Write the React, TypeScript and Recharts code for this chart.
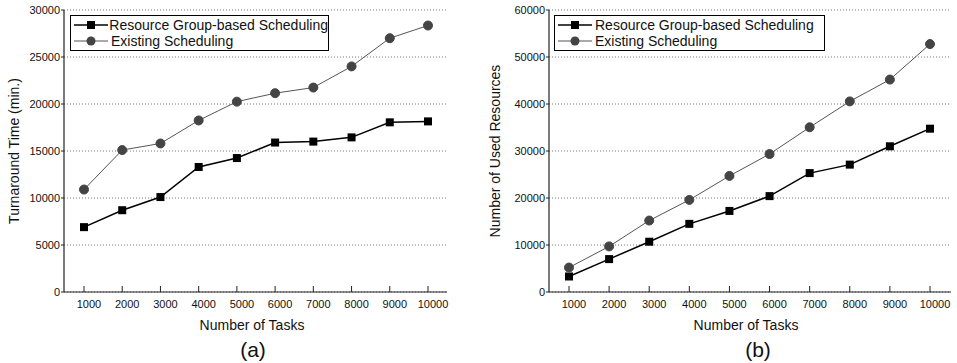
import React from 'react';
import { LineChart, Line, XAxis, YAxis, CartesianGrid, Legend, Label } from 'recharts';

const tasks = [1000, 2000, 3000, 4000, 5000, 6000, 7000, 8000, 9000, 10000];
const seriesNames = ['Resource Group-based Scheduling', 'Existing Scheduling'];
const turnaroundRG = [6900, 8700, 10100, 13300, 14250, 15900, 16000, 16450, 18050, 18150];
const turnaroundEx = [10900, 15100, 15800, 18250, 20250, 21150, 21750, 24000, 27000, 28350];
const resourcesRG = [3300, 7000, 10700, 14500, 17250, 20400, 25300, 27100, 31000, 34750];
const resourcesEx = [5200, 9700, 15200, 19600, 24700, 29350, 35050, 40550, 45200, 52750];
const turnaroundTicks = [0, 5000, 10000, 15000, 20000, 25000, 30000];
const resourceTicks = [0, 10000, 20000, 30000, 40000, 50000, 60000];

const FONT = "Arial, 'Liberation Sans', sans-serif";

const build = (a: number[], b: number[]) =>
  tasks.map((t, i) => ({ tasks: t, rg: a[i], ex: b[i] }));

const SquareDot = (props: any) => {
  const { cx, cy, index } = props;
  if (cx == null || cy == null) return <g key={`sq-${index}`} />;
  return <rect key={`sq-${index}`} x={cx - 4} y={cy - 4} width={8} height={8} fill="#000" />;
};

const LegendBox = ({ width }: { width: number }) => (
  <div
    style={{
      width,
      height: 36,
      boxSizing: 'border-box',
      border: '1px solid #000',
      background: '#fff',
      fontFamily: FONT,
      fontSize: 14,
      color: '#111',
      paddingTop: 1,
    }}
  >
    {seriesNames.map((name, i) => (
      <div key={name} style={{ display: 'flex', alignItems: 'center', height: 16 }}>
        <svg width={38} height={16} style={{ marginLeft: 1 }}>
          <line x1={2} y1={8} x2={36} y2={8} stroke={i === 0 ? '#000' : '#555'} strokeWidth={i === 0 ? 1.5 : 1} />
          {i === 0 ? (
            <rect x={15} y={4} width={8} height={8} fill="#000" />
          ) : (
            <circle cx={19} cy={8} r={4.5} fill="#444" />
          )}
        </svg>
        <span style={{ marginLeft: 1, whiteSpace: 'nowrap', lineHeight: '16px' }}>{name}</span>
      </div>
    ))}
  </div>
);

interface PanelProps {
  left: number;
  width: number;
  yAxisWidth: number;
  marginRight: number;
  rg: number[];
  ex: number[];
  yTicks: number[];
  yLabel: string;
  yLabelX: number;
  xLabelX: number;
  caption: string;
  captionX: number;
  legendLeft: number;
  legendWidth: number;
  padLeft: number;
  padRight: number;
}

const Panel = (p: PanelProps) => {
  const data = build(p.rg, p.ex);
  const yMax = p.yTicks[p.yTicks.length - 1];
  return (
    <div style={{ position: 'absolute', left: p.left, top: 0 }}>
      <LineChart width={p.width} height={363} data={data} margin={{ top: 10, right: p.marginRight, left: 0, bottom: 21 }}>
        <CartesianGrid vertical={false} stroke="#777" strokeDasharray="1 2" />
        <XAxis
          dataKey="tasks"
          type="category"
          height={50}
          padding={{ left: p.padLeft, right: p.padRight }}
          axisLine={{ stroke: '#222', strokeWidth: 1.2 }}
          tickLine={{ stroke: '#222' }}
          tickSize={-6}
          tickMargin={14}
          tick={{ fontSize: 11, fill: '#111', fontFamily: FONT, dx: 5 }}
          interval={0}
        >
          <Label
            content={() => (
              <g>
                <text x={p.xLabelX} y={325} textAnchor="middle" dominantBaseline="central" fontSize={14} fontFamily={FONT} fill="#111">
                  Number of Tasks
                </text>
                <text x={p.captionX} y={349} textAnchor="middle" dominantBaseline="central" fontSize={21} fontFamily={FONT} fill="#111">
                  {p.caption}
                </text>
              </g>
            )}
          />
        </XAxis>
        <XAxis xAxisId="top" dataKey="tasks" orientation="top" height={0} tick={false} tickLine={false} axisLine={{ stroke: '#111', strokeWidth: 1.2 }} />
        <YAxis
          width={p.yAxisWidth}
          domain={[0, yMax]}
          ticks={p.yTicks}
          interval={0}
          axisLine={{ stroke: '#222', strokeWidth: 1.2 }}
          tickLine={{ stroke: '#222' }}
          tickSize={3}
          tickMargin={1}
          tick={{ fontSize: 11, fill: '#111', fontFamily: FONT }}
        >
          <Label
            content={() => (
              <text
                x={p.yLabelX}
                y={151}
                transform={`rotate(-90 ${p.yLabelX} 151)`}
                textAnchor="middle"
                dominantBaseline="central"
                fontSize={14}
                fontFamily={FONT}
                fill="#111"
              >
                {p.yLabel}
              </text>
            )}
          />
        </YAxis>
        <YAxis yAxisId="right" orientation="right" width={0} domain={[0, 1]} tick={false} tickLine={false} axisLine={{ stroke: '#111', strokeWidth: 1.2 }} />
        <Legend
          layout="vertical"
          align="center"
          verticalAlign="middle"
          wrapperStyle={{ top: 15, left: p.legendLeft, width: 'auto', height: 'auto' }}
          content={() => <LegendBox width={p.legendWidth} />}
        />
        <Line
          dataKey="rg"
          name={seriesNames[0]}
          stroke="#000"
          strokeWidth={1.5}
          dot={SquareDot}
          isAnimationActive={false}
        />
        <Line
          dataKey="ex"
          name={seriesNames[1]}
          stroke="#555"
          strokeWidth={1}
          dot={{ r: 4.5, fill: '#444', stroke: '#444', strokeWidth: 1 }}
          isAnimationActive={false}
        />
      </LineChart>
    </div>
  );
};

export default function App() {
  return (
    <div style={{ position: 'absolute', left: 0, top: 0, width: 957, height: 363, background: '#fff', overflow: 'hidden' }}>
      <Panel
        left={0}
        width={460}
        yAxisWidth={64}
        marginRight={13}
        rg={turnaroundRG}
        ex={turnaroundEx}
        yTicks={turnaroundTicks}
        yLabel="Turnaround Time (min.)"
        yLabelX={14}
        xLabelX={252}
        caption="(a)"
        captionX={253}
        legendLeft={70}
        legendWidth={259}
        padLeft={20}
        padRight={19}
      />
      <Panel
        left={478}
        width={478}
        yAxisWidth={71}
        marginRight={5}
        rg={resourcesRG}
        ex={resourcesEx}
        yTicks={resourceTicks}
        yLabel="Number of Used Resources"
        yLabelX={17}
        xLabelX={268}
        caption="(b)"
        captionX={280}
        legendLeft={76}
        legendWidth={271}
        padLeft={20}
        padRight={21}
      />
    </div>
  );
}
